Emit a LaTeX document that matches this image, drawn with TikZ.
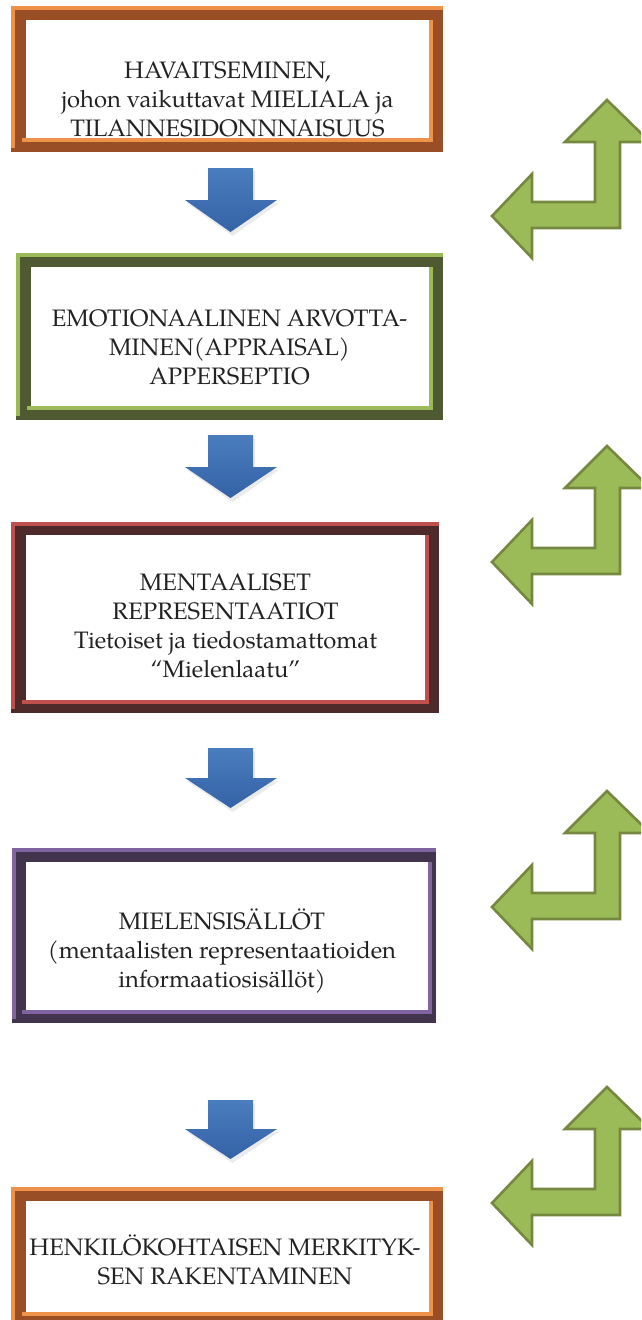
\documentclass[tikz,border=0pt]{standalone}
\usepackage{fontspec}
\setmainfont{texgyrepagella}[Extension=.otf, UprightFont=*-regular, BoldFont=*-bold, ItalicFont=*-italic, BoldItalicFont=*-bolditalic]
\definecolor{orL}{HTML}{EE9149}
\definecolor{orD}{HTML}{9A4E25}
\definecolor{grL}{HTML}{9BBB59}
\definecolor{grD}{HTML}{4F5A32}
\definecolor{reL}{HTML}{C0504D}
\definecolor{reD}{HTML}{4F2A2A}
\definecolor{puL}{HTML}{8064A2}
\definecolor{puD}{HTML}{41344C}
\definecolor{arF}{HTML}{9BBB59}
\definecolor{arS}{HTML}{76883F}
\definecolor{blT}{HTML}{4A7DBE}
\definecolor{blB}{HTML}{3462A6}
\definecolor{txt}{HTML}{222222}
\newcommand\bluearr[3]{%
  \fill[black, opacity=0.08] (210,#1+3) -- (255,#1+3) -- (255,#2+3) -- (279,#2+3) -- (232.5,#3+4) -- (187,#2+3) -- (210,#2+3) -- cycle;
  \shade[bluearrow] (208,#1) -- (253,#1) -- (253,#2) -- (277,#2) -- (230.5,#3) -- (185,#2) -- (208,#2) -- cycle;}
\newcommand\greenarr[1]{%
  \draw[greenarrow, shift={(0,#1)}] (607,0) -- (650,42) -- (620,42) -- (620,128) -- (532,128) -- (532,158) -- (492,116) -- (532,74) -- (532,102) -- (595,102) -- (595,42) -- (565,42) -- cycle;}
\begin{document}
\begin{tikzpicture}[x=1pt,y=-1pt,
  inbox/.style={rectangle, fill=white, draw=none, inner sep=0pt},
  boxtext/.style={align=center, font=\fontsize{23.8}{29}\selectfont, text=txt, inner sep=0pt},
  greenarrow/.style={fill=arF, draw=arS, line width=2.6pt, line join=miter},
  bluearrow/.style={top color=blT, bottom color=blB, draw=none}]
\useasboundingbox (0,0) rectangle (641,1320);
\clip (0,0) rectangle (641,1320);
\fill[white] (0,0) rectangle (641,1320);

% Box 1
\fill[orD] (11,6) rectangle (443,152);
\fill[orL] (11,6) rectangle (443,10);
\fill[orL] (11,6) rectangle (15,148);
\fill[orL] (22,138) rectangle (433,142);
\fill[orL] (429,20) rectangle (433,142);
\node[inbox, minimum width=403pt, minimum height=118pt] (b1) at (227.5,79) {};
\node[boxtext] (t1) at (227.5,99) {HAVAITSEMINEN,\\johon vaikuttavat MIELIALA ja\\TILANNESIDONNNAISUUS};

% Box 2
\fill[grD] (16,253) rectangle (443,420);
\fill[grL] (16,253) rectangle (443,257);
\fill[grL] (16,253) rectangle (20,416);
\fill[grL] (27,406) rectangle (433,410);
\fill[grL] (429,267) rectangle (433,410);
\node[inbox, minimum width=398pt, minimum height=139pt] (b2) at (230,336.5) {};
\node[boxtext] (t2) at (229.5,347) {EMOTIONAALINEN ARVOTTA-\\MINEN(APPRAISAL)\\APPERSEPTIO};

% Box 3
\fill[reD] (11,522) rectangle (439,713);
\fill[reL] (11,522) rectangle (439,526);
\fill[reL] (11,522) rectangle (15,709);
\fill[reL] (22,700) rectangle (429,704);
\fill[reL] (425,535) rectangle (429,704);
\node[inbox, minimum width=399pt, minimum height=165pt] (b3) at (225.5,617.5) {};
\node[boxtext] (t3) at (225.5,626) {MENTAALISET\\REPRESENTAATIOT\\Tietoiset ja tiedostamattomat\\“Mielenlaatu”};

% Box 4
\fill[puD] (12,848) rectangle (436,1023);
\fill[puL] (12,848) rectangle (436,852);
\fill[puL] (12,848) rectangle (16,1019);
\fill[puL] (22,1010) rectangle (432,1014);
\fill[puL] (428,862) rectangle (432,1014);
\node[inbox, minimum width=402pt, minimum height=148pt] (b4) at (227,936) {};
\node[boxtext] (t4) at (222,951) {MIELENSISÄLLÖT\\(mentaalisten representaatioiden\\informaatiosisällöt)};

% Box 5
\fill[orD] (11,1187) rectangle (443,1326);
\fill[orL] (11,1187) rectangle (443,1191);
\fill[orL] (11,1187) rectangle (15,1322);
\fill[orL] (22,1312) rectangle (433,1316);
\fill[orL] (429,1201) rectangle (433,1316);
\node[inbox, minimum width=403pt, minimum height=111pt] (b5) at (227.5,1256.5) {};
\node[boxtext] (t5) at (225,1260) {HENKILÖKOHTAISEN MERKITYK-\\SEN RAKENTAMINEN};

% Blue arrows
\bluearr{168}{200}{232}
\bluearr{435}{467}{498}
\bluearr{748}{778}{808}
\bluearr{1100}{1129}{1159}

% Green bent arrows
\greenarr{100}
\greenarr{446}
\greenarr{791}
\greenarr{1087}
\end{tikzpicture}
\end{document}
